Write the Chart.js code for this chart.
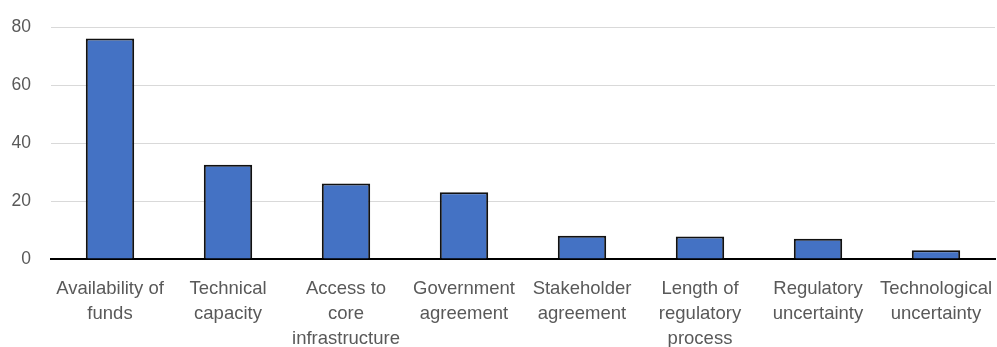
<!DOCTYPE html>
<html>
<head>
<meta charset="utf-8">
<script src="https://cdn.jsdelivr.net/npm/chart.js@4/dist/chart.umd.min.js"></script>
<style>
  html, body { margin: 0; padding: 0; background: #ffffff; }
  #wrap { width: 997px; height: 347px; }
</style>
</head>
<body>
<div id="wrap"><canvas id="c" width="997" height="347"></canvas></div>
<script>
// Barriers and how often each was cited
const categories = [
  ["Availability of", "funds"],
  ["Technical", "capacity"],
  ["Access to", "core", "infrastructure"],
  ["Government", "agreement"],
  ["Stakeholder", "agreement"],
  ["Length of", "regulatory", "process"],
  ["Regulatory", "uncertainty"],
  ["Technological", "uncertainty"]
];
const values = [76, 32.5, 26, 23, 8, 7.8, 7, 3];
const yTicks = [0, 20, 40, 60, 80];

const textColor = "#595959";
const fontFamily = "'Liberation Sans', Arial, sans-serif";

new Chart(document.getElementById("c"), {
  type: "bar",
  data: {
    labels: categories,
    datasets: [{
      data: values,
      backgroundColor: "#4472C4",
      borderColor: "#111111",
      borderWidth: 2,
      borderSkipped: "bottom",
      categoryPercentage: 1,
      barPercentage: 0.41
    }]
  },
  options: {
    responsive: false,
    animation: false,
    devicePixelRatio: 1,
    layout: { padding: { top: 27, right: 2, left: 0, bottom: 0 } },
    plugins: { legend: { display: false }, tooltip: { enabled: false } },
    scales: {
      x: {
        grid: { display: false, drawTicks: false },
        border: { display: true, color: "#000000", width: 2 },
        ticks: {
          color: textColor,
          font: { family: fontFamily, size: 18.5, lineHeight: 1.34 },
          maxRotation: 0,
          autoSkip: false,
          padding: 18
        },
        afterFit: (s) => { s.height = 88; s.paddingLeft = 0; s.paddingRight = 0; }
      },
      y: {
        min: 0,
        max: 80,
        afterBuildTicks: (s) => { s.ticks = yTicks.map(v => ({ value: v })); },
        grid: { color: "#d9d9d9", lineWidth: 1, drawTicks: false },
        border: { display: false },
        ticks: {
          color: textColor,
          font: { family: fontFamily, size: 17.5 },
          padding: 20
        },
        afterFit: (s) => { s.width = 51; s.paddingTop = 0; s.paddingBottom = 0; }
      }
    }
  }
});
</script>
</body>
</html>
